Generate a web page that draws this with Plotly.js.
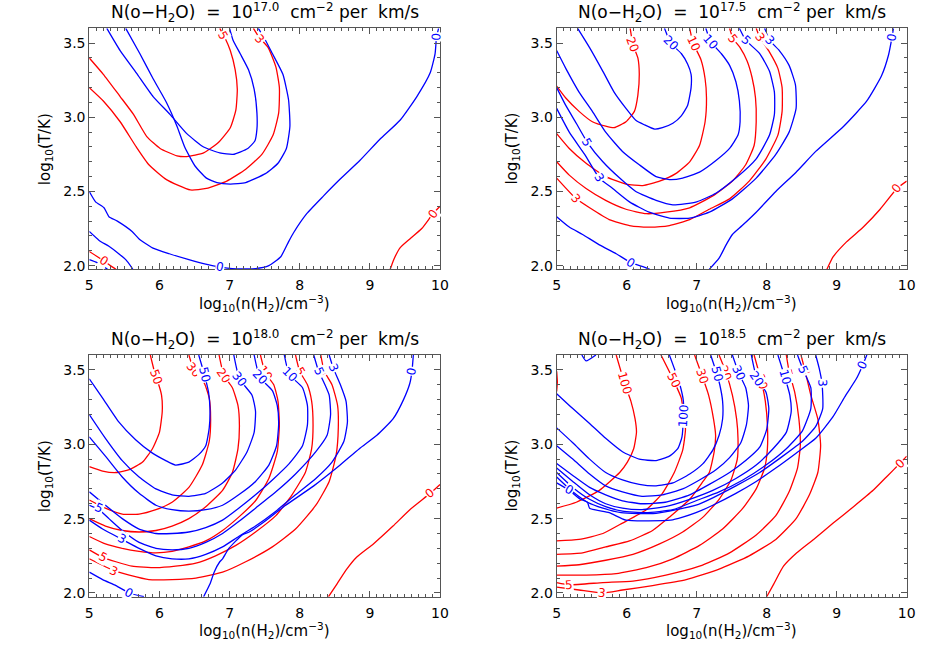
<!DOCTYPE html>
<html><head><meta charset="utf-8">
<script src="https://cdn.plot.ly/plotly-3.0.1.min.js"></script>
<style>html,body{margin:0;padding:0;background:#fff}#plot{width:934px;height:654px}</style>
</head><body><div id="plot"></div>
<script>
// ---------- Panel titles (exponent of N(o-H2O)) ----------
const panelExp = ['17.0', '17.5', '18.0', '18.5'];

// ---------- Panel 1: N = 10^17.0 ----------
const p1_red_5 = [[5.00,3.40],[5.20,3.29],[5.44,3.14],[5.63,3.02],[5.82,2.87],[6.01,2.79],[6.25,2.74],[6.39,2.735],[6.63,2.76],[6.84,2.83],[7.01,2.93],[7.09,3.05],[7.11,3.19],[7.08,3.32],[7.01,3.45],[6.93,3.54],[6.86,3.60]];
const p1_red_3 = [[5.00,3.20],[5.20,3.11],[5.44,2.97],[5.67,2.80],[5.85,2.68],[6.10,2.58],[6.44,2.51],[6.67,2.52],[6.96,2.57],[7.23,2.65],[7.46,2.75],[7.62,2.88],[7.70,3.03],[7.71,3.20],[7.66,3.34],[7.55,3.47],[7.42,3.54],[7.34,3.60]];
const p1_red_0a = [[5.00,2.095],[5.10,2.065],[5.21,2.03],[5.30,2.00],[5.38,1.975]];
const p1_red_0b = [[9.29,1.975],[9.34,2.04],[9.43,2.12],[9.57,2.18],[9.74,2.25],[9.90,2.35],[10.0,2.40]];
const p1_blue_5 = [[5.25,3.60],[5.44,3.45],[5.67,3.30],[5.91,3.14],[6.15,3.02],[6.39,2.89],[6.63,2.80],[6.86,2.76],[7.05,2.75],[7.26,2.79],[7.36,2.84],[7.39,2.92],[7.39,3.03],[7.35,3.19],[7.27,3.32],[7.15,3.43],[7.05,3.52],[7.00,3.60]];
const p1_blue_3 = [[5.52,3.60],[5.72,3.43],[5.91,3.26],[6.10,3.10],[6.25,2.94],[6.36,2.80],[6.51,2.67],[6.67,2.59],[6.82,2.56],[7.01,2.55],[7.23,2.56],[7.51,2.62],[7.69,2.69],[7.81,2.79],[7.86,2.94],[7.84,3.12],[7.76,3.29],[7.61,3.43],[7.50,3.53],[7.41,3.60]];
const p1_blue_0a = [[5.00,2.50],[5.09,2.43],[5.21,2.39],[5.28,2.33],[5.40,2.30],[5.61,2.23],[5.71,2.18],[5.90,2.12],[6.14,2.08],[6.42,2.04],[6.66,2.01],[6.87,1.99],[7.04,1.98],[7.37,1.98],[7.56,2.00],[7.73,2.06],[7.84,2.16],[7.91,2.22],[8.10,2.35],[8.34,2.47],[8.57,2.58],[8.86,2.71],[9.14,2.85],[9.43,2.98],[9.67,3.14],[9.86,3.30],[9.93,3.43],[9.95,3.54],[9.98,3.60]];
const p1_blue_0b = [[5.00,2.23],[5.14,2.17],[5.28,2.13],[5.42,2.08],[5.52,2.04],[5.60,1.99],[5.62,1.975]];
const p1_blue_0c = [[5.00,2.04],[5.11,2.02],[5.26,1.975]];
const p1_red_labels = [['5',6.91,3.55],['3',7.43,3.53],['0',5.21,2.03],['0',9.90,2.35]];
const p1_blue_labels = [['0',6.87,1.99],['0',9.95,3.54]];

// ---------- Panel 2: N = 10^17.5 ----------
const p2_red_20 = [[5.00,3.21],[5.13,3.13],[5.32,3.04],[5.51,2.97],[5.70,2.94],[5.82,2.93],[5.99,2.97],[6.11,3.04],[6.16,3.15],[6.18,3.29],[6.16,3.40],[6.09,3.49],[6.05,3.60]];
const p2_red_10 = [[5.00,2.89],[5.18,2.79],[5.42,2.69],[5.70,2.60],[5.99,2.55],[6.23,2.54],[6.47,2.57],[6.70,2.62],[6.90,2.70],[7.04,2.81],[7.12,2.97],[7.14,3.13],[7.12,3.26],[7.06,3.39],[6.95,3.50],[6.90,3.60]];
const p2_red_5 = [[5.00,2.70],[5.18,2.61],[5.42,2.52],[5.70,2.44],[5.99,2.38],[6.28,2.35],[6.56,2.36],[6.90,2.39],[7.23,2.47],[7.51,2.57],[7.70,2.68],[7.82,2.81],[7.85,2.97],[7.84,3.13],[7.79,3.27],[7.72,3.38],[7.62,3.47],[7.52,3.53],[7.47,3.60]];
const p2_red_3 = [[5.00,2.59],[5.28,2.45],[5.47,2.39],[5.75,2.31],[6.04,2.27],[6.32,2.26],[6.61,2.27],[6.90,2.31],[7.18,2.38],[7.47,2.45],[7.75,2.57],[7.99,2.72],[8.16,2.88],[8.22,3.04],[8.22,3.20],[8.16,3.33],[8.04,3.44],[7.90,3.54],[7.85,3.60]];
const p2_red_0 = [[8.86,1.975],[8.95,2.06],[9.14,2.16],[9.38,2.26],[9.62,2.38],[9.86,2.52],[10.0,2.57]];
const p2_blue_20 = [[5.30,3.60],[5.47,3.47],[5.66,3.31],[5.82,3.17],[5.99,3.06],[6.13,2.98],[6.25,2.95],[6.40,2.92],[6.51,2.93],[6.66,2.96],[6.78,3.01],[6.87,3.08],[6.92,3.20],[6.92,3.29],[6.87,3.36],[6.78,3.43],[6.63,3.50],[6.54,3.60]];
const p2_blue_10 = [[5.00,3.45],[5.13,3.33],[5.32,3.17],[5.51,3.04],[5.70,2.90],[5.94,2.77],[6.18,2.68],[6.42,2.60],[6.61,2.58],[6.80,2.59],[7.04,2.63],[7.28,2.71],[7.47,2.79],[7.59,2.88],[7.62,2.97],[7.61,3.11],[7.56,3.24],[7.47,3.35],[7.35,3.43],[7.20,3.51],[7.13,3.60]];
const p2_blue_5 = [[5.00,3.20],[5.13,3.08],[5.28,2.96],[5.44,2.83],[5.66,2.70],[5.90,2.59],[6.13,2.50],[6.42,2.44],[6.66,2.41],[7.00,2.43],[7.28,2.49],[7.56,2.59],[7.85,2.72],[8.04,2.88],[8.11,3.02],[8.11,3.17],[8.04,3.31],[7.90,3.43],[7.70,3.52],[7.61,3.60]];
const p2_blue_3 = [[5.00,3.06],[5.18,2.90],[5.40,2.75],[5.61,2.59],[5.80,2.52],[6.04,2.43],[6.32,2.36],[6.61,2.32],[6.90,2.32],[7.18,2.36],[7.51,2.45],[7.85,2.59],[8.13,2.75],[8.32,2.90],[8.42,3.06],[8.41,3.22],[8.32,3.35],[8.18,3.45],[8.04,3.52],[7.97,3.60]];
const p2_blue_0a = [[5.00,2.33],[5.18,2.26],[5.37,2.21],[5.61,2.14],[5.85,2.08],[6.06,2.02],[6.25,1.99],[6.33,1.975]];
const p2_blue_0b = [[7.18,1.975],[7.32,2.05],[7.42,2.14],[7.51,2.21],[7.65,2.27],[7.85,2.36],[8.13,2.50],[8.42,2.63],[8.70,2.77],[9.10,2.94],[9.43,3.11],[9.64,3.28],[9.74,3.42],[9.79,3.54],[9.81,3.60]];
const p2_red_labels = [['20',6.09,3.49],['10',6.95,3.50],['5',7.52,3.53],['3',7.90,3.54],['3',5.28,2.45],['0',9.86,2.52]];
const p2_blue_labels = [['20',6.63,3.50],['10',7.20,3.51],['5',7.70,3.52],['3',8.04,3.52],['5',5.44,2.83],['3',5.61,2.59],['0',6.06,2.02],['0',9.79,3.54]];

// ---------- Panel 3: N = 10^18.0 ----------
const p3_red_50 = [[5.00,2.85],[5.19,2.82],[5.38,2.81],[5.57,2.83],[5.76,2.88],[5.90,2.97],[6.00,3.08],[6.04,3.22],[6.03,3.33],[5.99,3.40],[5.95,3.45],[5.87,3.60]];
const p3_red_30 = [[5.00,2.625],[5.23,2.57],[5.47,2.53],[5.71,2.53],[5.95,2.56],[6.18,2.61],[6.42,2.71],[6.61,2.86],[6.71,3.02],[6.73,3.17],[6.71,3.31],[6.64,3.41],[6.49,3.50],[6.42,3.60]];
const p3_red_20 = [[5.00,2.50],[5.23,2.45],[5.47,2.42],[5.71,2.41],[5.95,2.42],[6.18,2.45],[6.42,2.50],[6.66,2.58],[6.90,2.69],[7.04,2.81],[7.12,2.97],[7.14,3.13],[7.12,3.26],[7.04,3.38],[6.92,3.46],[6.85,3.60]];
const p3_red_10 = [[5.00,2.38],[5.23,2.33],[5.47,2.30],[5.71,2.28],[5.95,2.27],[6.18,2.28],[6.42,2.31],[6.66,2.35],[6.90,2.42],[7.13,2.51],[7.37,2.62],[7.56,2.77],[7.68,2.95],[7.71,3.13],[7.69,3.29],[7.63,3.40],[7.51,3.48],[7.44,3.60]];
const p3_red_5 = [[5.00,2.29],[5.19,2.24],[5.38,2.21],[5.61,2.18],[5.95,2.17],[6.23,2.18],[6.52,2.20],[6.80,2.25],[7.09,2.32],[7.37,2.41],[7.66,2.52],[7.89,2.66],[8.08,2.81],[8.17,2.97],[8.19,3.13],[8.17,3.29],[8.11,3.40],[8.00,3.49],[7.94,3.60]];
const p3_red_3 = [[5.00,2.23],[5.35,2.15],[5.57,2.12],[5.85,2.09],[6.18,2.09],[6.52,2.10],[6.90,2.14],[7.23,2.21],[7.61,2.31],[7.94,2.43],[8.23,2.59],[8.42,2.75],[8.52,2.93],[8.55,3.11],[8.54,3.26],[8.46,3.40],[8.35,3.49],[8.30,3.60]];
const p3_red_0 = [[8.41,1.975],[8.53,2.06],[8.67,2.16],[8.81,2.24],[9.05,2.33],[9.33,2.45],[9.57,2.56],[9.86,2.67],[10.0,2.73]];
const p3_blue_50 = [[5.00,3.44],[5.19,3.31],[5.42,3.15],[5.66,3.03],[5.90,2.94],[6.09,2.89],[6.23,2.86],[6.42,2.88],[6.56,2.93],[6.66,2.99],[6.71,3.11],[6.72,3.24],[6.70,3.35],[6.64,3.47],[6.56,3.60]];
const p3_blue_30 = [[5.00,3.20],[5.23,3.04],[5.47,2.89],[5.71,2.78],[5.95,2.70],[6.18,2.66],[6.42,2.65],[6.66,2.67],[6.90,2.74],[7.09,2.83],[7.25,2.95],[7.35,3.08],[7.37,3.22],[7.32,3.33],[7.14,3.44],[7.06,3.60]];
const p3_blue_20 = [[5.00,3.05],[5.23,2.92],[5.47,2.78],[5.71,2.67],[5.95,2.59],[6.18,2.56],[6.42,2.55],[6.66,2.56],[6.90,2.59],[7.13,2.66],[7.37,2.75],[7.56,2.86],[7.67,2.99],[7.70,3.14],[7.68,3.26],[7.61,3.36],[7.43,3.45],[7.35,3.60]];
const p3_blue_10 = [[5.00,2.68],[5.23,2.59],[5.47,2.50],[5.71,2.43],[5.95,2.40],[6.18,2.40],[6.42,2.41],[6.66,2.44],[6.90,2.49],[7.13,2.57],[7.37,2.66],[7.61,2.76],[7.85,2.87],[8.04,2.99],[8.11,3.13],[8.11,3.26],[8.04,3.38],[7.85,3.47],[7.78,3.60]];
const p3_blue_5 = [[5.00,2.59],[5.14,2.56],[5.28,2.50],[5.47,2.42],[5.71,2.34],[5.95,2.30],[6.18,2.29],[6.42,2.30],[6.66,2.34],[6.90,2.40],[7.13,2.48],[7.37,2.57],[7.66,2.68],[7.94,2.80],[8.23,2.95],[8.39,3.06],[8.44,3.20],[8.42,3.33],[8.35,3.41],[8.27,3.49],[8.20,3.60]];
const p3_blue_3 = [[5.00,2.49],[5.19,2.43],[5.47,2.36],[5.71,2.30],[5.95,2.25],[6.18,2.23],[6.42,2.23],[6.66,2.26],[6.90,2.31],[7.13,2.38],[7.37,2.45],[7.66,2.55],[7.94,2.66],[8.23,2.77],[8.46,2.88],[8.63,3.02],[8.68,3.15],[8.66,3.29],[8.58,3.40],[8.48,3.51],[8.42,3.60]];
const p3_blue_0a = [[5.00,2.14],[5.19,2.09],[5.38,2.05],[5.57,2.00],[5.78,1.975]];
const p3_blue_0b = [[6.63,1.975],[6.72,2.06],[6.78,2.14],[6.86,2.21],[6.90,2.23],[6.99,2.30],[7.18,2.39],[7.28,2.41],[7.47,2.47],[7.80,2.59],[8.20,2.72],[8.55,2.85],[8.85,2.97],[9.10,3.06],[9.33,3.17],[9.48,3.30],[9.57,3.41],[9.60,3.49],[9.62,3.60]];
const p3_red_labels = [['50',5.95,3.45],['30',6.49,3.50],['20',6.92,3.46],['10',7.51,3.48],['5',8.00,3.49],['3',8.35,3.49],['5',5.19,2.24],['3',5.35,2.15],['0',9.86,2.67]];
const p3_blue_labels = [['50',6.64,3.47],['30',7.14,3.44],['20',7.43,3.45],['10',7.85,3.47],['5',8.27,3.49],['3',8.48,3.51],['5',5.14,2.57],['3',5.47,2.36],['0',5.57,2.00],['0',9.60,3.49]];

// ---------- Panel 4: N = 10^18.5 ----------
const p4_red_100 = [[5.85,3.60],[5.97,3.41],[6.06,3.29],[6.12,3.17],[6.14,3.08],[6.10,2.97],[6.01,2.88],[5.90,2.81],[5.61,2.69],[5.28,2.61],[5.00,2.57]];
const p4_red_edge = [[5.00,3.49],[5.01,3.42],[5.00,3.355]];
const p4_red_50 = [[6.49,3.60],[6.67,3.43],[6.78,3.31],[6.82,3.17],[6.84,3.10],[6.80,2.96],[6.68,2.81],[6.51,2.67],[6.28,2.56],[5.94,2.47],[5.66,2.40],[5.32,2.36],[5.00,2.35]];
const p4_red_30 = [[6.97,3.60],[7.07,3.47],[7.17,3.33],[7.24,3.17],[7.27,3.06],[7.25,2.95],[7.18,2.81],[7.09,2.75],[6.90,2.63],[6.61,2.51],[6.37,2.42],[6.04,2.35],[5.70,2.31],[5.37,2.27],[5.00,2.26]];
const p4_red_20 = [[7.32,3.60],[7.42,3.48],[7.51,3.33],[7.57,3.17],[7.59,3.04],[7.58,2.90],[7.49,2.76],[7.32,2.63],[7.09,2.51],[6.80,2.41],[6.47,2.33],[6.09,2.26],[5.70,2.22],[5.32,2.19],[5.00,2.18]];
const p4_red_10 = [[7.82,3.60],[7.93,3.41],[7.98,3.29],[8.01,3.13],[8.01,2.97],[7.97,2.84],[7.85,2.70],[7.66,2.57],[7.37,2.43],[7.04,2.32],[6.66,2.23],[6.28,2.17],[5.85,2.13],[5.42,2.12],[5.00,2.12]];
const p4_red_5 = [[8.28,3.60],[8.32,3.49],[8.40,3.35],[8.46,3.17],[8.48,2.99],[8.44,2.84],[8.32,2.68],[8.13,2.52],[7.85,2.39],[7.47,2.27],[7.04,2.18],[6.56,2.12],[6.09,2.08],[5.66,2.07],[5.18,2.055],[5.00,2.07]];
const p4_red_3 = [[8.49,3.60],[8.55,3.49],[8.63,3.33],[8.73,3.17],[8.77,2.99],[8.73,2.81],[8.61,2.66],[8.42,2.50],[8.13,2.36],[7.75,2.25],[7.32,2.16],[6.85,2.09],[6.37,2.05],[5.94,2.02],[5.66,2.00],[5.32,2.02],[5.00,2.04]];
const p4_red_0 = [[8.00,1.975],[8.10,2.06],[8.24,2.18],[8.43,2.27],[8.67,2.36],[8.95,2.47],[9.24,2.58],[9.52,2.69],[9.71,2.78],[9.90,2.87],[10.0,2.92]];
const p4_blue_100 = [[5.00,3.34],[5.23,3.24],[5.47,3.14],[5.70,3.04],[5.94,2.95],[6.18,2.90],[6.42,2.89],[6.61,2.92],[6.73,2.97],[6.79,3.05],[6.81,3.19],[6.81,3.29],[6.76,3.40],[6.68,3.51],[6.61,3.60]];
const p4_blue_50 = [[5.00,3.11],[5.23,3.01],[5.47,2.90],[5.70,2.81],[5.94,2.76],[6.18,2.73],[6.42,2.72],[6.66,2.74],[6.90,2.80],[7.09,2.87],[7.23,2.96],[7.32,3.06],[7.37,3.17],[7.37,3.29],[7.33,3.40],[7.29,3.47],[7.20,3.60]];
const p4_blue_30 = [[5.00,2.99],[5.23,2.90],[5.47,2.80],[5.70,2.72],[5.94,2.68],[6.22,2.65],[6.51,2.66],[6.80,2.70],[7.04,2.76],[7.28,2.83],[7.47,2.91],[7.63,3.01],[7.71,3.13],[7.74,3.26],[7.70,3.38],[7.60,3.48],[7.51,3.60]];
const p4_blue_20 = [[5.00,2.87],[5.23,2.79],[5.47,2.71],[5.70,2.66],[5.94,2.62],[6.22,2.60],[6.55,2.61],[6.90,2.66],[7.18,2.73],[7.47,2.81],[7.70,2.89],[7.90,2.98],[8.00,3.10],[8.03,3.24],[7.99,3.35],[7.86,3.44],[7.78,3.60]];
const p4_blue_10 = [[5.00,2.84],[5.23,2.75],[5.47,2.66],[5.70,2.60],[5.94,2.57],[6.22,2.56],[6.55,2.58],[6.90,2.63],[7.23,2.69],[7.56,2.77],[7.85,2.86],[8.09,2.97],[8.28,3.08],[8.35,3.22],[8.33,3.33],[8.26,3.45],[8.16,3.60]];
const p4_blue_5 = [[5.00,2.81],[5.23,2.71],[5.47,2.63],[5.70,2.58],[5.94,2.55],[6.27,2.54],[6.66,2.56],[6.99,2.62],[7.32,2.68],[7.66,2.76],[7.99,2.86],[8.28,2.97],[8.51,3.09],[8.63,3.24],[8.63,3.38],[8.52,3.50],[8.44,3.60]];
const p4_blue_3 = [[5.00,2.78],[5.23,2.68],[5.44,2.61],[5.66,2.57],[5.92,2.54],[6.42,2.535],[6.99,2.59],[7.23,2.64],[7.56,2.72],[7.90,2.81],[8.23,2.92],[8.51,3.02],[8.70,3.12],[8.80,3.24],[8.79,3.41],[8.75,3.51],[8.70,3.60]];
const p4_blue_0 = [[5.00,2.74],[5.18,2.69],[5.34,2.63],[5.44,2.61],[5.47,2.57],[5.75,2.54],[5.99,2.49],[6.63,2.49],[6.80,2.51],[6.99,2.54],[7.23,2.59],[7.56,2.67],[7.85,2.75],[8.13,2.84],[8.42,2.94],[8.70,3.04],[8.94,3.18],[9.13,3.33],[9.28,3.44],[9.37,3.53],[9.43,3.60]];
const p4_blue_corner = [[5.36,3.60],[5.42,3.56],[5.56,3.60]];
const p4_red_labels = [['100',5.97,3.41],['50',6.67,3.43],['30',7.08,3.46],['20',7.41,3.48],['10',7.93,3.42],['5',8.30,3.48],['3',8.55,3.49],['5',5.18,2.055],['3',5.65,2.00],['0',9.90,2.87]];
const p4_blue_labels = [['100',6.81,3.19],['50',7.29,3.47],['30',7.60,3.48],['20',7.86,3.44],['10',8.26,3.45],['5',8.52,3.50],['3',8.79,3.41],['0',5.18,2.69],['0',9.37,3.53]];

// ---------- Assemble ----------
const panels = [
  {red:[p1_red_5,p1_red_3,p1_red_0a,p1_red_0b], blue:[p1_blue_5,p1_blue_3,p1_blue_0a,p1_blue_0b,p1_blue_0c], rl:p1_red_labels, bl:p1_blue_labels},
  {red:[p2_red_20,p2_red_10,p2_red_5,p2_red_3,p2_red_0], blue:[p2_blue_20,p2_blue_10,p2_blue_5,p2_blue_3,p2_blue_0a,p2_blue_0b], rl:p2_red_labels, bl:p2_blue_labels},
  {red:[p3_red_50,p3_red_30,p3_red_20,p3_red_10,p3_red_5,p3_red_3,p3_red_0], blue:[p3_blue_50,p3_blue_30,p3_blue_20,p3_blue_10,p3_blue_5,p3_blue_3,p3_blue_0a,p3_blue_0b], rl:p3_red_labels, bl:p3_blue_labels},
  {red:[p4_red_100,p4_red_edge,p4_red_50,p4_red_30,p4_red_20,p4_red_10,p4_red_5,p4_red_3,p4_red_0], blue:[p4_blue_100,p4_blue_50,p4_blue_30,p4_blue_20,p4_blue_10,p4_blue_5,p4_blue_3,p4_blue_0,p4_blue_corner], rl:p4_red_labels, bl:p4_blue_labels}
];

const RED = '#ff0000', BLUE = '#0000ff', FRAME = '#555555';
const FONT = 'DejaVu Sans, Verdana, sans-serif';
const XPX = 70.1, YPX = 148.3; // pixels per data unit inside a panel
const xDom = [[0.0956,0.4711],[0.5960,0.9708],[0.0956,0.4711],[0.5960,0.9708]];
const yDom = [[0.5882,0.9567],[0.5882,0.9567],[0.0876,0.4572],[0.0876,0.4572]];
const SP = '\u00a0';

const traces = [];
const annotations = [];

function labelAngle(lx, ly, curves){
  let best = 1e12, ang = 0;
  curves.forEach(c => {
    for (let i = 0; i < c.length - 1; i++){
      const ax = (c[i][0]-lx)*XPX, ay = (c[i][1]-ly)*YPX;
      const bx = (c[i+1][0]-lx)*XPX, by = (c[i+1][1]-ly)*YPX;
      const dx = bx-ax, dy = by-ay, L = dx*dx+dy*dy;
      let t = L ? -(ax*dx+ay*dy)/L : 0; t = Math.max(0, Math.min(1, t));
      const px = ax+t*dx, py = ay+t*dy, d = px*px+py*py;
      if (d < best){ best = d; ang = Math.atan2(-dy, dx)*180/Math.PI; }
    }
  });
  if (ang > 90) ang -= 180;
  if (ang <= -90) ang += 180;
  return ang;
}

panels.forEach((p, i) => {
  const sfx = i === 0 ? '' : String(i+1);
  const xa = 'x'+sfx, ya = 'y'+sfx;
  [[p.red, RED],[p.blue, BLUE]].forEach(([curves, col]) => {
    curves.forEach(c => traces.push({
      type:'scatter', mode:'lines', x:c.map(q=>q[0]), y:c.map(q=>q[1]),
      xaxis:xa, yaxis:ya, line:{color:col, width:1.3, shape:'spline', smoothing:0.5},
      hoverinfo:'skip', showlegend:false
    }));
  });
  [[p.rl, p.red, RED],[p.bl, p.blue, BLUE]].forEach(([labs, curves, col]) => {
    labs.forEach(l => annotations.push({
      x:l[1], y:l[2], xref:xa, yref:ya, xanchor:'center', yanchor:'middle', text:l[0], showarrow:false,
      font:{family:FONT, size:12, color:col}, textangle:labelAngle(l[1], l[2], curves),
      bgcolor:'rgba(255,255,255,1)', borderpad:0
    }));
  });
  const xc = (xDom[i][0]+xDom[i][1])/2, yc = (yDom[i][0]+yDom[i][1])/2;
  const top = yDom[i][1];
  annotations.push({xref:'paper', yref:'paper', x:xc, y:top+0.0235, xanchor:'center', yanchor:'middle', showarrow:false,
    text:'N(o\u2212H<sub>2</sub>O)'+SP+SP+'='+SP+SP+'10<sup>'+panelExp[i]+'</sup>'+SP+SP+'cm<sup>\u22122</sup>'+SP+'per'+SP+SP+'km/s',
    font:{family:FONT, size:17, color:'#000'}});
  annotations.push({xref:'paper', yref:'paper', x:xc, y:yDom[i][0]-0.0517, xanchor:'center', yanchor:'middle', showarrow:false,
    text:'log<sub>10</sub>(n(H<sub>2</sub>)/cm<sup>\u22123</sup>)', font:{family:FONT, size:15, color:'#000'}});
  annotations.push({xref:'paper', yref:'paper', x:xDom[i][0]-0.047, y:yc, xanchor:'center', yanchor:'middle', showarrow:false, textangle:-90,
    text:'log<sub>10</sub>(T/K)', font:{family:FONT, size:15, color:'#000'}});
});

function axX(dom, anchor){
  return {domain:dom, anchor:anchor, range:[5,10], tick0:5, dtick:1, ticks:'inside', ticklen:6, tickwidth:1,
    tickcolor:FRAME, showline:true, linecolor:FRAME, linewidth:1, mirror:'allticks', showgrid:false, zeroline:false,
    tickfont:{family:FONT, size:14, color:'#000'}, ticklabelstandoff:3, fixedrange:true,
    minor:{dtick:0.1, tick0:5, ticks:'inside', ticklen:3, tickcolor:FRAME, showgrid:false}};
}
function axY(dom, anchor){
  return {domain:dom, anchor:anchor, range:[1.975,3.6], tick0:2, dtick:0.5, tickformat:'.1f', ticks:'inside', ticklen:6, tickwidth:1,
    tickcolor:FRAME, showline:true, linecolor:FRAME, linewidth:1, mirror:'allticks', showgrid:false, zeroline:false,
    tickfont:{family:FONT, size:14, color:'#000'}, fixedrange:true,
    minor:{dtick:0.1, tick0:2, ticks:'inside', ticklen:3, tickcolor:FRAME, showgrid:false}};
}

const layout = {
  width:934, height:654, margin:{l:0, r:0, t:0, b:0}, paper_bgcolor:'#fff', plot_bgcolor:'#fff', showlegend:false,
  xaxis:axX(xDom[0],'y'), yaxis:axY(yDom[0],'x'),
  xaxis2:axX(xDom[1],'y2'), yaxis2:axY(yDom[1],'x2'),
  xaxis3:axX(xDom[2],'y3'), yaxis3:axY(yDom[2],'x3'),
  xaxis4:axX(xDom[3],'y4'), yaxis4:axY(yDom[3],'x4'),
  annotations:annotations
};

Plotly.newPlot('plot', traces, layout, {displayModeBar:false, staticPlot:true});
</script>
</body></html>
